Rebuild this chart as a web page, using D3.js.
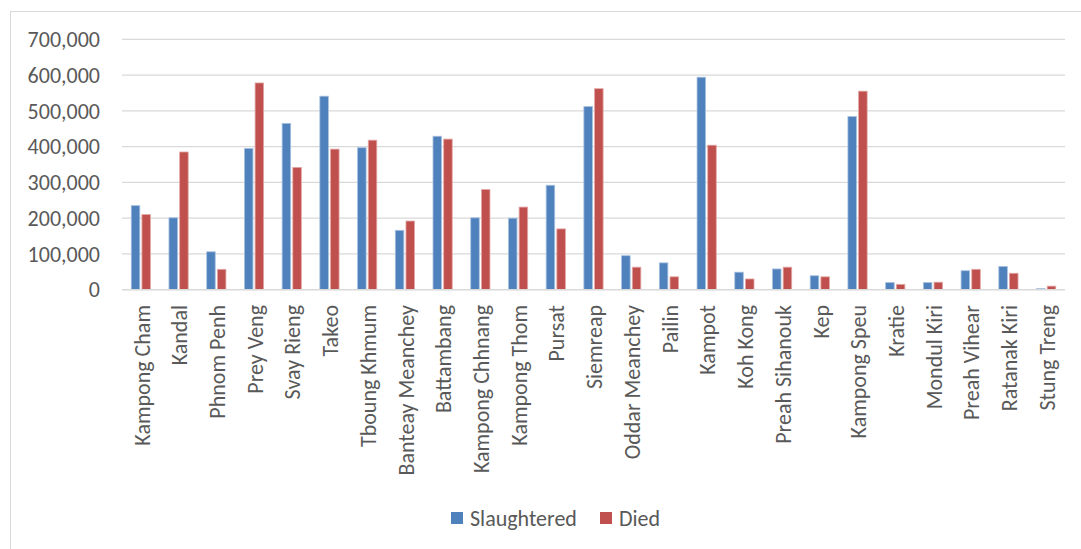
<!DOCTYPE html>
<html>
<head>
<meta charset="utf-8">
<script src="https://cdn.jsdelivr.net/npm/d3@7"></script>
<style>
  html, body { margin: 0; padding: 0; background: #fff; }
  svg { display: block; }
  text { font-family: Carlito, Calibri, "Open Sans", sans-serif; fill: #595959; }
</style>
</head>
<body>
<svg id="chart" width="1081" height="549"></svg>
<script>
const categories = ["Kampong Cham","Kandal","Phnom Penh","Prey Veng","Svay Rieng","Takeo","Tboung Khmum","Banteay Meanchey","Battambang","Kampong Chhnang","Kampong Thom","Pursat","Siemreap","Oddar Meanchey","Pailin","Kampot","Koh Kong","Preah Sihanouk","Kep","Kampong Speu","Kratie","Mondul Kiri","Preah Vihear","Ratanak Kiri","Stung Treng"];
const slaughtered = [235000,201000,106000,395000,465000,541000,397000,166000,429000,201000,200000,292000,512000,95000,75000,594000,49000,58000,39000,484000,20000,20000,53000,65000,3000];
const died = [210000,385000,57000,578000,342000,393000,418000,192000,421000,280000,231000,170000,562000,63000,36000,404000,30000,63000,36000,555000,15000,21000,57000,46000,10000];
const seriesNames = ["Slaughtered","Died"];
const yTicks = [0,100000,200000,300000,400000,500000,600000,700000];

const colors = {"Slaughtered":"#4f81bd","Died":"#c0504d"};
const strokes = {"Slaughtered":"#a9c1df","Died":"#e3a9a7"};

const svg = d3.select("#chart");
const pLeft = 122, pRight = 1065, pTop = 39.3, pBottom = 289.7;

// border
svg.append("rect").attr("x",10.5).attr("y",11.5).attr("width",1200).attr("height",700)
  .attr("fill","none").attr("stroke","#d9d9d9").attr("stroke-width",1);

const x0 = d3.scaleBand().domain(categories).range([pLeft,pRight]).paddingInner(0.49).paddingOuter(0.245);
const x1 = d3.scaleBand().domain(seriesNames).range([0,x0.bandwidth()]).paddingInner(0.2);
const y = d3.scaleLinear().domain([0,700000]).range([pBottom,pTop]);

// gridlines
svg.append("g").selectAll("line").data(yTicks.filter(d=>d>0)).join("line")
  .attr("x1",pLeft).attr("x2",pRight).attr("y1",d=>y(d)).attr("y2",d=>y(d))
  .attr("stroke","#d9d9d9").attr("stroke-width",1.3);

// y labels
const fmt = d3.format(",");
svg.append("g").selectAll("text").data(yTicks).join("text")
  .attr("x",100).attr("y",d=>y(d)).attr("dy","0.35em").attr("text-anchor","end")
  .style("font-size","22px").text(d=>fmt(d));

// bars
const data = categories.map((c,i)=>({cat:c, vals:[{s:"Slaughtered",v:slaughtered[i]},{s:"Died",v:died[i]}]}));
const groups = svg.append("g").selectAll("g").data(data).join("g")
  .attr("transform",d=>`translate(${x0(d.cat)},0)`);
groups.selectAll("rect").data(d=>d.vals).join("rect")
  .attr("x",d=>x1(d.s)).attr("width",x1.bandwidth())
  .attr("y",d=>y(d.v)).attr("height",d=>y(0)-y(d.v))
  .attr("fill",d=>colors[d.s]).attr("stroke",d=>strokes[d.s]).attr("stroke-width",0.8);

// baseline
svg.append("line").attr("x1",pLeft).attr("x2",pRight).attr("y1",y(0)).attr("y2",y(0))
  .attr("stroke","#d9d9d9").attr("stroke-width",1.6);

// x labels
svg.append("g").selectAll("text").data(categories).join("text")
  .attr("transform",d=>`translate(${x0(d)+x0.bandwidth()/2+1},305) rotate(-90)`)
  .attr("dy","0.35em").attr("text-anchor","end")
  .style("font-size","22px").text(d=>d);

// legend
const legend = svg.append("g");
const legItems = [{s:"Slaughtered",x:451},{s:"Died",x:600}];
legItems.forEach(it=>{
  legend.append("rect").attr("x",it.x).attr("y",512).attr("width",12).attr("height",12).attr("fill",colors[it.s]);
  legend.append("text").attr("x",it.x+19).attr("y",518).attr("dy","0.35em").style("font-size","22px").text(it.s);
});
</script>
</body>
</html>
